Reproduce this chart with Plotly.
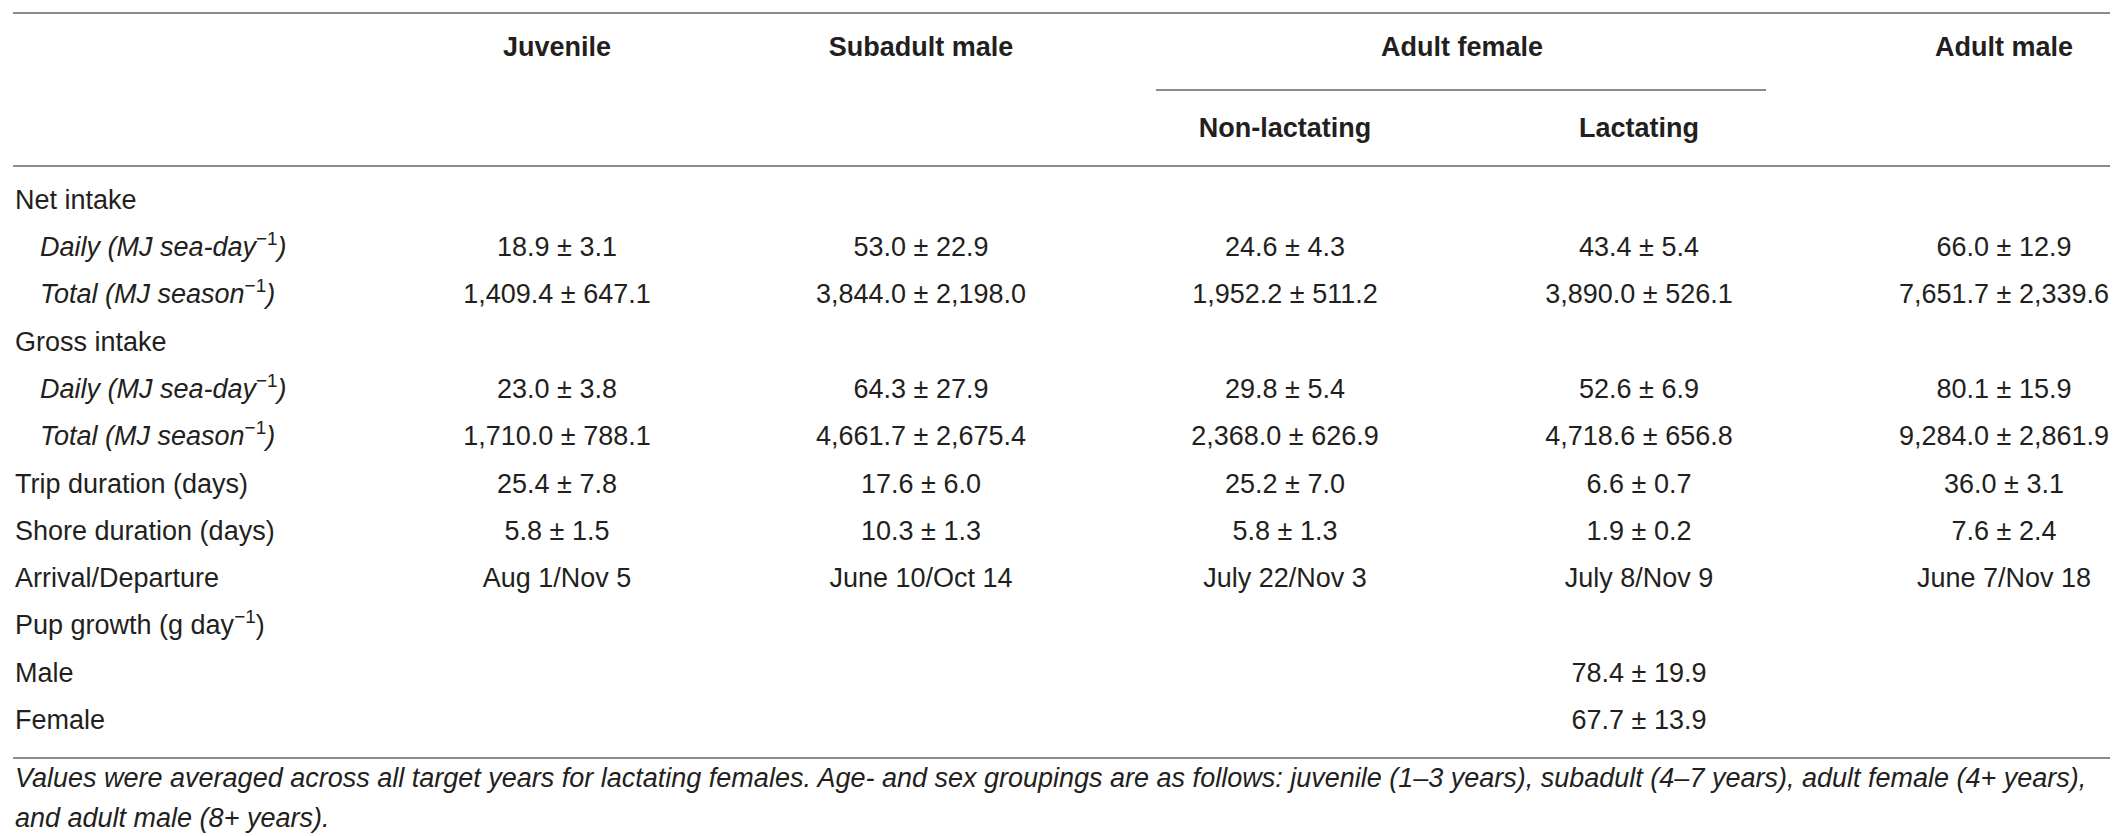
import plotly.graph_objects as go

# Table content
groups = ["Juvenile", "Subadult male", "Adult female", "Adult male"]
subgroups = ["Non-lactating", "Lactating"]

row_labels = [
    ("Net intake", ""),
    ("Daily (MJ sea-day", "−1"),
    ("Total (MJ season", "−1"),
    ("Gross intake", ""),
    ("Daily (MJ sea-day", "−1"),
    ("Total (MJ season", "−1"),
    ("Trip duration (days)", ""),
    ("Shore duration (days)", ""),
    ("Arrival/Departure", ""),
    ("Pup growth (g day", "−1"),
    ("Male", ""),
    ("Female", ""),
]
sub_rows = [1, 2, 4, 5]  # italic, indented rows

juvenile = ["", "18.9 ± 3.1", "1,409.4 ± 647.1", "", "23.0 ± 3.8", "1,710.0 ± 788.1",
            "25.4 ± 7.8", "5.8 ± 1.5", "Aug 1/Nov 5", "", "", ""]
subadult_male = ["", "53.0 ± 22.9", "3,844.0 ± 2,198.0", "", "64.3 ± 27.9", "4,661.7 ± 2,675.4",
                 "17.6 ± 6.0", "10.3 ± 1.3", "June 10/Oct 14", "", "", ""]
nonlactating = ["", "24.6 ± 4.3", "1,952.2 ± 511.2", "", "29.8 ± 5.4", "2,368.0 ± 626.9",
                "25.2 ± 7.0", "5.8 ± 1.3", "July 22/Nov 3", "", "", ""]
lactating = ["", "43.4 ± 5.4", "3,890.0 ± 526.1", "", "52.6 ± 6.9", "4,718.6 ± 656.8",
             "6.6 ± 0.7", "1.9 ± 0.2", "July 8/Nov 9", "", "78.4 ± 19.9", "67.7 ± 13.9"]
adult_male = ["", "66.0 ± 12.9", "7,651.7 ± 2,339.6", "", "80.1 ± 15.9", "9,284.0 ± 2,861.9",
              "36.0 ± 3.1", "7.6 ± 2.4", "June 7/Nov 18", "", "", ""]

footnote = [
    "Values were averaged across all target years for lactating females. Age- and sex groupings "
    "are as follows: juvenile (1–3 years), subadult (4–7 years), adult female (4+ years),",
    "and adult male (8+ years).",
]

W, H = 2118, 836
FONT = "Liberation Sans"
INK = "#231f20"
RULE = "#8c8c8c"
SIZE = 27

col_x = [549, 913, 1277, 1631, 1996]
row_y = [194 + i * 47.3 for i in range(len(row_labels))]


def text_trace(xs, ys, texts, pos):
    return go.Scatter(
        x=xs, y=ys, text=texts, mode="text", textposition=pos,
        textfont=dict(family=FONT, size=SIZE, color=INK),
        cliponaxis=False, hoverinfo="skip", showlegend=False)


fig = go.Figure()

# header rows
fig.add_trace(text_trace(
    [col_x[0], col_x[1], (col_x[2] + col_x[3]) / 2, col_x[4]], [41] * 4,
    ["<b>%s</b>" % g for g in groups], "middle center"))
fig.add_trace(text_trace(
    [col_x[2], col_x[3]], [122, 122],
    ["<b>%s</b>" % s for s in subgroups], "middle center"))

# row labels
labels, lab_x = [], []
for i, (lab, sup) in enumerate(row_labels):
    tail = ("<sup>%s</sup>)" % sup) if sup else ""
    if i in sub_rows:
        labels.append("<i>%s</i>%s" % (lab, tail.replace(")", "<i>)</i>")))
        lab_x.append(32)
    else:
        labels.append(lab + tail)
        lab_x.append(7)
fig.add_trace(text_trace(lab_x, row_y, labels, "middle right"))

# value columns (empty cells are skipped)
for cx, col in zip(col_x, [juvenile, subadult_male, nonlactating, lactating, adult_male]):
    ys = [y for y, v in zip(row_y, col) if v]
    vals = [v for v in col if v]
    fig.add_trace(text_trace([cx] * len(vals), ys, vals, "middle center"))

# footnote
fig.add_trace(text_trace([7, 7], [772, 812], ["<i>%s</i>" % f for f in footnote], "middle right"))

# rules
for y0, xa, xb in [(5, 5, 2113), (158, 5, 2113), (750, 5, 2113), (82, 1148, 1758)]:
    fig.add_shape(type="line", x0=xa, x1=xb, y0=y0, y1=y0,
                  xref="x", yref="y", line=dict(color=RULE, width=2))

fig.update_layout(
    width=W, height=H,
    margin=dict(l=0, r=0, t=0, b=0),
    paper_bgcolor="white", plot_bgcolor="white",
    xaxis=dict(range=[0, W], visible=False, fixedrange=True),
    yaxis=dict(range=[H, 0], visible=False, fixedrange=True),
)

fig.write_html("out.html")
